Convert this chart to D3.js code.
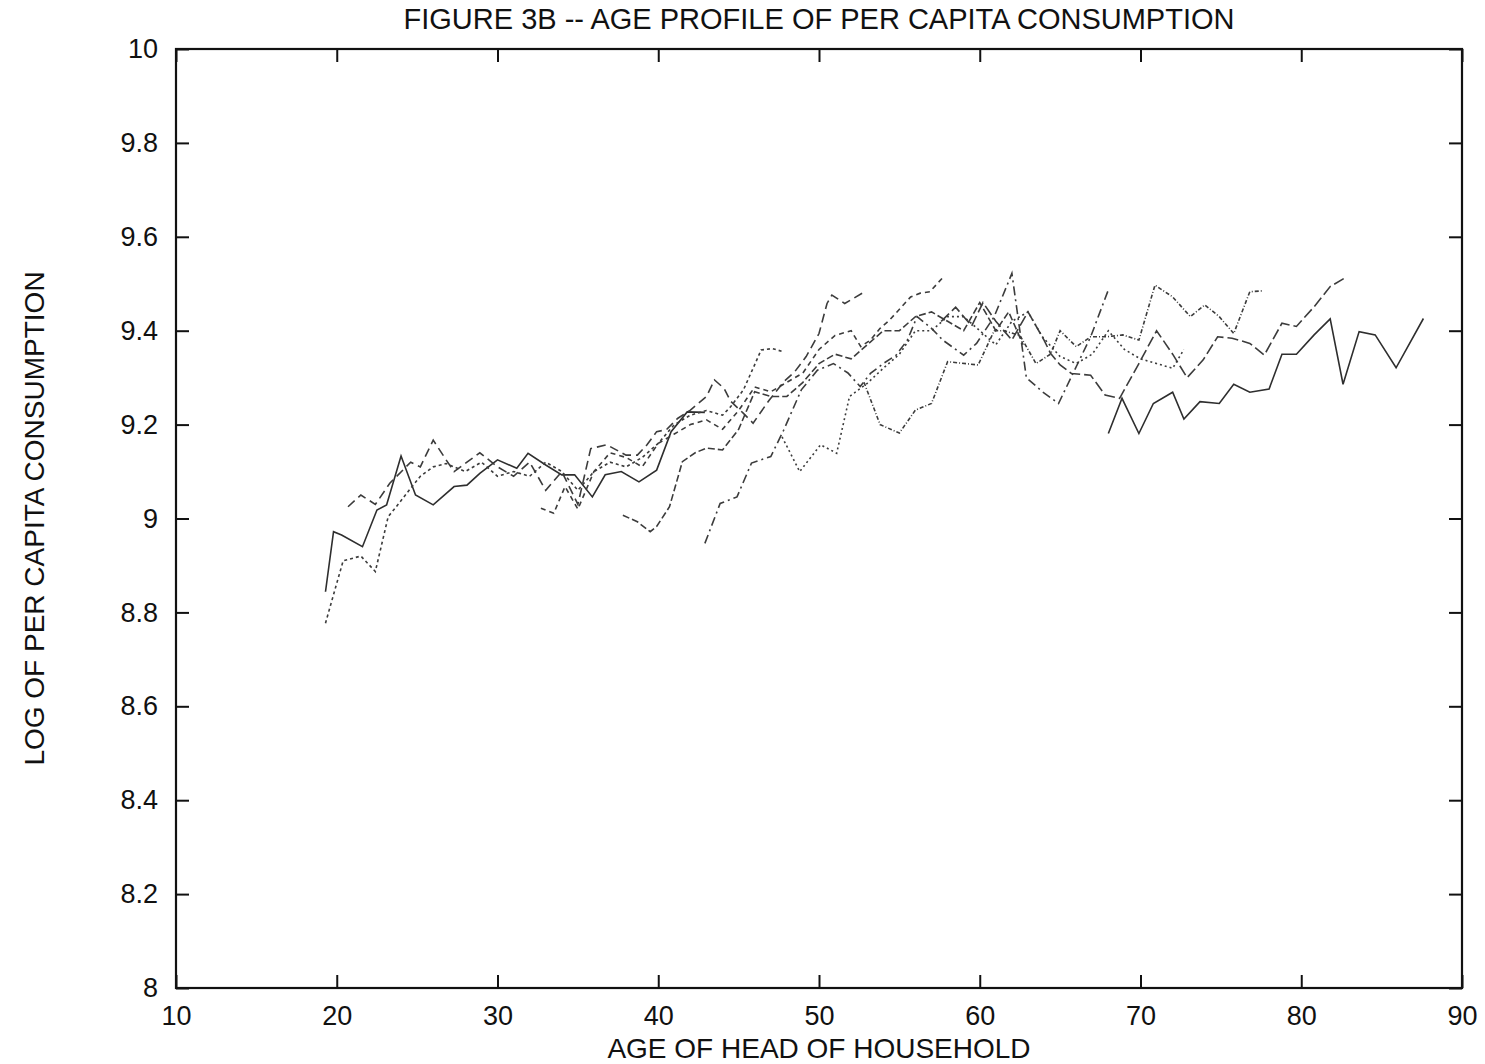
<!DOCTYPE html>
<html>
<head>
<meta charset="utf-8">
<script src="https://cdn.jsdelivr.net/npm/d3@7"></script>
<style>
  body { margin: 0; background: #fff; }
  text { font-family: "Liberation Sans", Arial, sans-serif; fill: #111; }
</style>
</head>
<body>
<div id="chart"></div>
<script>
// tick labels
var xTicks = [10, 20, 30, 40, 50, 60, 70, 80, 90];
var yTicks = [8, 8.2, 8.4, 8.6, 8.8, 9, 9.2, 9.4, 9.6, 9.8, 10];

// cohort age profiles (age of head, log per capita consumption)
var c1Age = [19.3,19.8,20.3,21.6,22.5,23.1,24.0,24.9,26.0,27.3,28.1,28.9,30.0,31.2,31.9,33.0,34.0,34.8,35.9,36.7,37.7,38.8,39.9,40.8,41.8,42.9];
var c1Val = [8.844,8.972,8.965,8.940,9.018,9.029,9.133,9.050,9.029,9.068,9.071,9.096,9.125,9.107,9.139,9.114,9.093,9.093,9.046,9.093,9.100,9.078,9.103,9.185,9.227,9.226];

var c2Age = [19.3,19.9,20.4,21.5,22.4,23.2,23.7,24.5,25.2,26.0,26.8,28,29,30,31,32,33,34,35,36,37,38,39,40,41,42,43,44,44.5,45.3,45.9,46.4,47.1,47.8];
var c2Val = [8.777,8.85,8.91,8.92,8.887,9.004,9.025,9.06,9.09,9.11,9.117,9.10,9.12,9.09,9.10,9.09,9.12,9.10,9.06,9.10,9.12,9.11,9.13,9.16,9.20,9.22,9.23,9.22,9.238,9.274,9.32,9.359,9.362,9.355];

var c3Age = [20.7,21.5,22.4,23.3,24.6,25.2,26.0,26.8,27.3,28.1,28.9,30,31,32,33,34,35,35.8,36.8,38,38.7,39.3,39.9,40.5,41.2,42,43,43.5,44.1,44.5,45.3,45.9,46.9,47.8,48.5,49.2,50,50.5,50.8,51.6,52.7];
var c3Val = [9.025,9.05,9.03,9.075,9.12,9.11,9.167,9.125,9.10,9.12,9.14,9.11,9.09,9.12,9.06,9.10,9.03,9.149,9.157,9.135,9.135,9.157,9.185,9.189,9.213,9.231,9.26,9.295,9.277,9.25,9.224,9.203,9.252,9.291,9.313,9.345,9.394,9.458,9.476,9.458,9.48];

var c4Age = [32.7,33.5,34.2,35,36,37,38,39,40,41,42,43,44,45,46,47,48,49,50,51,52,52.6,53.2,53.8,54.4,55.7,56.3,56.9,57.75];
var c4Val = [9.022,9.011,9.068,9.02,9.10,9.14,9.13,9.11,9.16,9.18,9.20,9.21,9.19,9.23,9.28,9.27,9.29,9.31,9.36,9.39,9.40,9.366,9.38,9.405,9.423,9.472,9.48,9.483,9.515];

var c5Age = [37.8,38.7,39.5,39.9,40.7,41.5,42.3,43,44,45,46,47,48,49,50,51,52,53,54,55,56,57,58,59,60,61,61.8,62.7];
var c5Val = [9.007,8.993,8.972,8.983,9.025,9.121,9.14,9.15,9.146,9.19,9.27,9.26,9.26,9.29,9.33,9.35,9.34,9.37,9.40,9.40,9.43,9.44,9.42,9.40,9.46,9.40,9.44,9.37];

var c6Age = [42.9,43.85,44.9,45.8,47,47.8,48.9,49.9,50.9,51.8,52.56,53.2,54,54.8,55.5,56.1,57,57.7,59,59.8,60.9,62,62.9,63.9,64.9,65.8,66.9,68];
var c6Val = [8.947,9.032,9.046,9.118,9.132,9.188,9.274,9.316,9.33,9.31,9.281,9.309,9.33,9.348,9.38,9.43,9.405,9.38,9.348,9.373,9.43,9.522,9.30,9.27,9.245,9.309,9.387,9.487];

var c7Age = [47.7,48.8,50.1,51.1,51.9,53,54,55,56,57,58,59,60,61,62,63,63.9,65,66,67,68,69,70,71,72,72.7];
var c7Val = [9.174,9.10,9.157,9.139,9.26,9.288,9.32,9.35,9.40,9.40,9.43,9.43,9.40,9.37,9.42,9.44,9.387,9.345,9.33,9.35,9.40,9.36,9.34,9.33,9.32,9.36];

var c8Age = [52.8,53.8,55,56,57,58,59.9,60.9,61.5,62.5,63.5,64.4,65,66,66.9,67.9,68.9,69.9,70.9,72,73.1,74,74.9,75.8,76.8,77.6];
var c8Val = [9.29,9.20,9.182,9.231,9.245,9.334,9.327,9.40,9.40,9.39,9.33,9.35,9.40,9.366,9.387,9.387,9.391,9.38,9.497,9.472,9.43,9.455,9.43,9.394,9.483,9.485];

var c9Age = [57.6,58.5,59.5,60.2,61,62,63,64,64.4,65,65.7,66.9,67.8,68.7,69.9,71,72,72.9,73.9,74.8,75.7,76.8,77.7,78.8,79.7,80.8,81.8,82.7];
var c9Val = [9.42,9.45,9.41,9.46,9.42,9.38,9.44,9.38,9.352,9.327,9.309,9.305,9.263,9.256,9.33,9.40,9.35,9.30,9.338,9.387,9.384,9.373,9.348,9.416,9.409,9.451,9.494,9.512];

var c10Age = [68.0,68.85,69.9,70.8,72.0,72.7,73.7,74.9,75.8,76.8,78.0,78.8,79.7,80.8,81.8,82.6,83.6,84.6,85.9,87.6];
var c10Val = [9.181,9.256,9.181,9.245,9.269,9.212,9.249,9.245,9.286,9.269,9.276,9.35,9.35,9.391,9.425,9.286,9.398,9.391,9.321,9.426];

var cohorts = [
  {age: c1Age, val: c1Val, dash: null},
  {age: c2Age, val: c2Val, dash: "3,3"},
  {age: c3Age, val: c3Val, dash: "9,5"},
  {age: c4Age, val: c4Val, dash: "5,4"},
  {age: c5Age, val: c5Val, dash: "7,3"},
  {age: c6Age, val: c6Val, dash: "9,4,2,4"},
  {age: c7Age, val: c7Val, dash: "2,3"},
  {age: c8Age, val: c8Val, dash: "4,2,1,2"},
  {age: c9Age, val: c9Val, dash: "11,4"},
  {age: c10Age, val: c10Val, dash: null}
];

var width = 1485, height = 1064;
var margin = {top: 49, right: 23, bottom: 76, left: 176};
var plotW = width - margin.left - margin.right;
var plotH = height - margin.top - margin.bottom;

var svg = d3.select("#chart").append("svg")
  .attr("width", width)
  .attr("height", height);

var x = d3.scaleLinear().domain([10, 90]).range([margin.left, margin.left + plotW]);
var y = d3.scaleLinear().domain([8, 10]).range([margin.top + plotH, margin.top]);

// ticks inward on all four sides
var tick = 13;
svg.append("g")
  .attr("transform", `translate(0,${margin.top + plotH})`)
  .call(d3.axisBottom(x).tickValues(xTicks).tickSizeInner(-tick).tickSizeOuter(0).tickPadding(18).tickFormat(d3.format("d")))
  .call(g => g.select(".domain").remove());
svg.append("g")
  .attr("transform", `translate(0,${margin.top})`)
  .call(d3.axisTop(x).tickValues(xTicks).tickSizeInner(-tick).tickSizeOuter(0).tickFormat(""))
  .call(g => g.select(".domain").remove());
svg.append("g")
  .attr("transform", `translate(${margin.left},0)`)
  .call(d3.axisLeft(y).tickValues(yTicks).tickSizeInner(-tick).tickSizeOuter(0).tickPadding(18).tickFormat(d => d3.format("")(+d.toFixed(1))))
  .call(g => g.select(".domain").remove());
svg.append("g")
  .attr("transform", `translate(${margin.left + plotW},0)`)
  .call(d3.axisRight(y).tickValues(yTicks).tickSizeInner(-tick).tickSizeOuter(0).tickFormat(""))
  .call(g => g.select(".domain").remove());

svg.selectAll(".tick line").attr("stroke", "#111").attr("stroke-width", 2);
svg.selectAll(".tick text")
  .style("font-family", '"Liberation Sans", Arial, sans-serif')
  .style("font-size", "27px")
  .attr("fill", "#222");

// frame
svg.append("rect")
  .attr("x", margin.left).attr("y", margin.top)
  .attr("width", plotW).attr("height", plotH)
  .attr("fill", "none").attr("stroke", "#111").attr("stroke-width", 2.2);

// cohort lines
var line = d3.line().x(d => x(d[0])).y(d => y(d[1]));
cohorts.forEach(function(c) {
  var pts = c.age.map((a, i) => [a, c.val[i]]);
  svg.append("path")
    .datum(pts)
    .attr("d", line)
    .attr("fill", "none")
    .attr("stroke", c.dash ? "#3c3c3c" : "#2e2e2e")
    .attr("stroke-width", 1.6)
    .attr("stroke-dasharray", c.dash);
});

// titles
svg.append("text")
  .attr("x", x(50)).attr("y", 29)
  .attr("text-anchor", "middle")
  .style("font-size", "29px")
  .text("FIGURE 3B -- AGE PROFILE OF PER CAPITA CONSUMPTION");

svg.append("text")
  .attr("x", x(50)).attr("y", 1058)
  .attr("text-anchor", "middle")
  .style("font-size", "28px")
  .text("AGE OF HEAD OF HOUSEHOLD");

svg.append("text")
  .attr("transform", `translate(44,${y(9)}) rotate(-90)`)
  .attr("text-anchor", "middle")
  .style("font-size", "28px")
  .text("LOG OF PER CAPITA CONSUMPTION");
</script>
</body>
</html>
